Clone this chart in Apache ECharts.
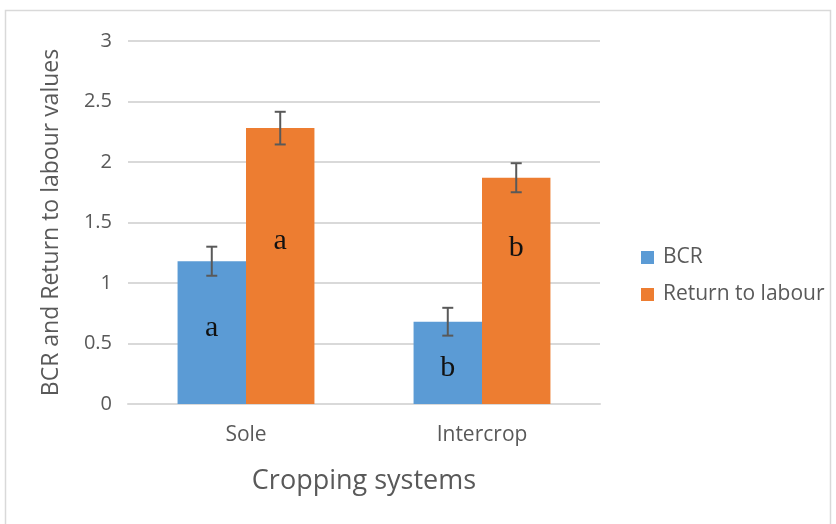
<!DOCTYPE html>
<html>
<head>
<meta charset="utf-8">
<script src="https://cdn.jsdelivr.net/npm/echarts@6/dist/echarts.min.js"></script>
<style>
  html, body { margin: 0; padding: 0; background: #fff; }
  #chart { width: 836px; height: 524px; }
</style>
</head>
<body>
<div id="chart"></div>
<script>
// Cropping systems and their economic indicators
const categories = ['Sole', 'Intercrop'];
const seriesNames = ['BCR', 'Return to labour'];
const bcr = [1.18, 0.68];
const returnToLabour = [2.28, 1.87];
// Standard error of each mean
const bcrErr = [0.12, 0.115];
const labourErr = [0.135, 0.12];
// Significance letters
const bcrLetters = ['a', 'b'];
const labourLetters = ['a', 'b'];
const yTicks = [0, 0.5, 1, 1.5, 2, 2.5, 3];

const colors = ['#5B9BD5', '#ED7D31'];
const textColor = '#595959';
const font = '"Open Sans", "Noto Sans", sans-serif';

// vertical placement of each letter inside its bar (percent of bar height from top)
const letterPos = [[47, 57], [41, 31]];

function barData(values, letters, s) {
  return values.map((v, i) => ({
    value: v,
    label: {
      show: true,
      formatter: letters[i],
      position: ['50%', letterPos[s][i] + '%'],
      align: 'center',
      verticalAlign: 'middle',
      fontFamily: '"Liberation Serif", "DejaVu Serif", serif',
      fontSize: 30,
      color: '#111'
    }
  }));
}

// error bars as I-beams centred on each bar
function errorSeries(values, errs, s) {
  return {
    type: 'custom',
    name: seriesNames[s] + ' error',
    z: 10,
    silent: true,
    data: values.map((v, i) => [i, v - errs[i], v + errs[i]]),
    renderItem: function (params, api) {
      const idx = api.value(0);
      const low = api.coord([idx, api.value(1)]);
      const high = api.coord([idx, api.value(2)]);
      const band = api.size([1, 0])[0];
      const barW = band * 0.58 / 2;
      const x = low[0] + (s === 0 ? -barW / 2 : barW / 2);
      const cap = 5.5;
      const style = { stroke: '#595959', lineWidth: 2 };
      return {
        type: 'group',
        children: [
          { type: 'line', shape: { x1: x, y1: low[1], x2: x, y2: high[1] }, style: style },
          { type: 'line', shape: { x1: x - cap, y1: low[1], x2: x + cap, y2: low[1] }, style: style },
          { type: 'line', shape: { x1: x - cap, y1: high[1], x2: x + cap, y2: high[1] }, style: style }
        ]
      };
    }
  };
}

const chart = echarts.init(document.getElementById('chart'), null, { renderer: 'canvas' });
chart.setOption({
  animation: false,
  color: colors,
  graphic: [{
    type: 'rect',
    shape: { x: 5.5, y: 10.5, width: 825, height: 530 },
    style: { fill: 'none', stroke: '#D9D9D9', lineWidth: 1.5 },
    silent: true
  }],
  grid: { left: 128, right: 236, top: 41, bottom: 120 },
  legend: {
    orient: 'vertical',
    left: 636,
    top: 242,
    itemWidth: 13,
    itemHeight: 13,
    itemGap: 16,
    icon: 'rect',
    data: seriesNames,
    textStyle: { color: textColor, fontSize: 21, fontFamily: font, padding: [0, 0, 0, 4] }
  },
  xAxis: {
    type: 'category',
    data: categories,
    name: 'Cropping systems',
    nameLocation: 'middle',
    nameGap: 64,
    nameTextStyle: { color: textColor, fontSize: 27, fontFamily: font },
    axisLine: { show: true, lineStyle: { color: '#D9D9D9', width: 2 } },
    axisTick: { show: false },
    axisLabel: { color: textColor, fontSize: 21, fontFamily: font, margin: 21 }
  },
  yAxis: {
    type: 'value',
    min: yTicks[0],
    max: yTicks[yTicks.length - 1],
    interval: yTicks[1] - yTicks[0],
    name: 'BCR and Return to labour values',
    nameLocation: 'middle',
    nameGap: 65,
    nameTextStyle: { color: textColor, fontSize: 23, fontFamily: font },
    axisLine: { show: false },
    axisTick: { show: false },
    axisLabel: { color: textColor, fontSize: 20, fontFamily: font, margin: 16 },
    splitLine: { lineStyle: { color: '#D9D9D9', width: 2 } }
  },
  series: [
    {
      type: 'bar',
      name: seriesNames[0],
      data: barData(bcr, bcrLetters, 0),
      barGap: '0%',
      barCategoryGap: '42%',
      itemStyle: { color: colors[0] }
    },
    {
      type: 'bar',
      name: seriesNames[1],
      data: barData(returnToLabour, labourLetters, 1),
      barGap: '0%',
      barCategoryGap: '42%',
      itemStyle: { color: colors[1] }
    },
    errorSeries(bcr, bcrErr, 0),
    errorSeries(returnToLabour, labourErr, 1)
  ]
});
</script>
</body>
</html>
